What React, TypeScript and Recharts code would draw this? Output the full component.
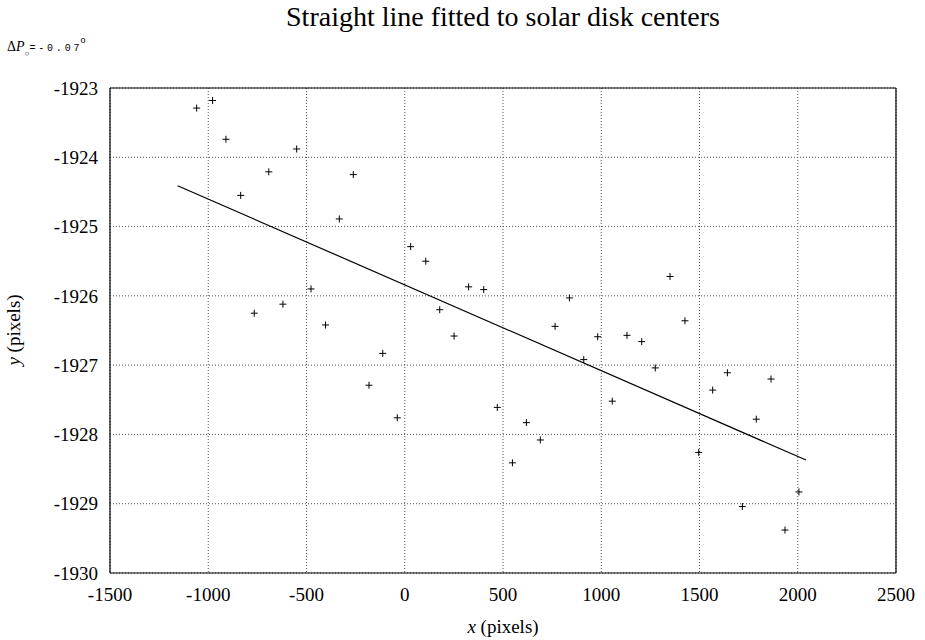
import React from "react";
import {
	ScatterChart,
	Scatter,
	XAxis,
	YAxis,
	CartesianGrid,
} from "recharts";

// measured disk centres, x and y in pixels
const centerX = [
	-1059, -978, -910, -835, -766, -692, -620, -550, -477, -403, -333, -262,
	-182, -112, -38, 30, 107, 178, 251, 325, 402, 471, 548, 619, 690, 765, 838,
	911, 982, 1056, 1131, 1206, 1275, 1350, 1426, 1496, 1567, 1642, 1718, 1789,
	1864, 1935, 2006,
];
const centerY = [
	-1923.29, -1923.18, -1923.74, -1924.55, -1926.25, -1924.21, -1926.12,
	-1923.88, -1925.9, -1926.42, -1924.89, -1924.25, -1927.29, -1926.83,
	-1927.76, -1925.29, -1925.5, -1926.2, -1926.58, -1925.87, -1925.91,
	-1927.61, -1928.41, -1927.83, -1928.08, -1926.44, -1926.03, -1926.92,
	-1926.59, -1927.52, -1926.57, -1926.66, -1927.04, -1925.72, -1926.36,
	-1928.26, -1927.36, -1927.11, -1929.04, -1927.78, -1927.2, -1929.38,
	-1928.83,
];

// end points of the fitted straight line
const fitX = [-1156, 2042];
const fitY = [-1924.41, -1928.37];

const xTicks = [-1500, -1000, -500, 0, 500, 1000, 1500, 2000, 2500];
const yTicks = [-1930, -1929, -1928, -1927, -1926, -1925, -1924, -1923];
const xMinor = Array.from({ length: 41 }, (_, i) => -1500 + i * 100);
const yMinor = Array.from({ length: 36 }, (_, i) => +(-1930 + i * 0.2).toFixed(1));

const points = centerX.map((x, i) => ({ x, y: centerY[i] }));
const fitLine = fitX.map((x, i) => ({ x, y: fitY[i] }));

const serif = "'Liberation Serif', 'Times New Roman', serif";
const mono = "'Liberation Mono', 'DejaVu Sans Mono', monospace";

const Plus = (props: any) => {
	const { cx, cy } = props;
	if (cx == null || cy == null) return <g />;
	return (
		<g stroke="#000" strokeWidth={1}>
			<line x1={cx - 3.5} x2={cx + 3.5} y1={cy} y2={cy} />
			<line x1={cx} x2={cx} y1={cy - 3.5} y2={cy + 3.5} />
		</g>
	);
};

const NoDot = () => <g />;

const tickFont = { fontFamily: serif, fontSize: 19, fill: "#000" };
const frame = { stroke: "#000", strokeWidth: 1.2 };
const tl = { stroke: "#000" };
const thin = 0.01; // mirrored tick-only axes, practically no size

export default function App() {
	return (
		<div style={{ position: "absolute", left: 0, top: 0, width: 925, height: 640, background: "#fff" }}>
			<ScatterChart
				width={925}
				height={640}
				margin={{ top: 88, right: 29, bottom: 37, left: 50 }}
			>
				<CartesianGrid
					xAxisId="main"
					yAxisId="main"
					stroke="#555"
					strokeDasharray="1 2"
				/>
				{/* inward tick marks on all four sides */}
				<XAxis xAxisId="bmin" type="number" domain={[-1500, 2500]} ticks={xMinor} interval={0} height={thin} mirror tick={false} tickSize={4} axisLine={false} tickLine={tl} allowDataOverflow />
				<XAxis xAxisId="bmaj" type="number" domain={[-1500, 2500]} ticks={xTicks} interval={0} height={thin} mirror tick={false} tickSize={8} axisLine={false} tickLine={tl} allowDataOverflow />
				<XAxis
					xAxisId="main"
					type="number"
					dataKey="x"
					domain={[-1500, 2500]}
					ticks={xTicks}
					interval={0}
					height={30}
					tickSize={6}
					tickMargin={9}
					tickLine={false}
					axisLine={frame}
					tick={tickFont}
					allowDataOverflow
				/>
				<XAxis xAxisId="tmin" orientation="top" type="number" domain={[-1500, 2500]} ticks={xMinor} interval={0} height={thin} mirror tick={false} tickSize={4} axisLine={frame} tickLine={tl} allowDataOverflow />
				<XAxis xAxisId="tmaj" orientation="top" type="number" domain={[-1500, 2500]} ticks={xTicks} interval={0} height={thin} mirror tick={false} tickSize={8} axisLine={false} tickLine={tl} allowDataOverflow />

				<YAxis yAxisId="lmin" type="number" domain={[-1930, -1923]} ticks={yMinor} interval={0} width={thin} mirror tick={false} tickSize={4} axisLine={false} tickLine={tl} allowDataOverflow />
				<YAxis yAxisId="lmaj" type="number" domain={[-1930, -1923]} ticks={yTicks} interval={0} width={thin} mirror tick={false} tickSize={8} axisLine={false} tickLine={tl} allowDataOverflow />
				<YAxis
					yAxisId="main"
					type="number"
					dataKey="y"
					domain={[-1930, -1923]}
					ticks={yTicks}
					interval={0}
					width={60}
					tickSize={6}
					tickMargin={6}
					tickLine={false}
					axisLine={frame}
					tick={tickFont}
					allowDataOverflow
				/>
				<YAxis yAxisId="rmin" orientation="right" type="number" domain={[-1930, -1923]} ticks={yMinor} interval={0} width={thin} mirror tick={false} tickSize={4} axisLine={frame} tickLine={tl} allowDataOverflow />
				<YAxis yAxisId="rmaj" orientation="right" type="number" domain={[-1930, -1923]} ticks={yTicks} interval={0} width={thin} mirror tick={false} tickSize={8} axisLine={false} tickLine={tl} allowDataOverflow />

				<Scatter
					xAxisId="main"
					yAxisId="main"
					data={fitLine}
					line={{ stroke: "#000", strokeWidth: 1.2 }}
					shape={NoDot}
					isAnimationActive={false}
				/>
				<Scatter
					xAxisId="main"
					yAxisId="main"
					data={points}
					shape={Plus}
					isAnimationActive={false}
				/>
			</ScatterChart>
			<svg
				width={925}
				height={640}
				style={{ position: "absolute", left: 0, top: 0, pointerEvents: "none" }}
			>
				<text x={503} y={26} textAnchor="middle" fontFamily={serif} fontSize={28} fill="#000">
					Straight line fitted to solar disk centers
				</text>
				<text x={7} y={51} fontFamily={serif} fontSize={14} fill="#000">
					<tspan>Δ</tspan>
					<tspan fontStyle="italic">P</tspan>
					<tspan fontSize={8} dy={5}>○</tspan>
					<tspan fontFamily={mono} fontSize={10} letterSpacing={2.8} dy={-5}>=-0.0</tspan>
					<tspan fontFamily={mono} fontSize={10}>7</tspan>
					<tspan fontSize={10} dx={1} dy={-8}>o</tspan>
				</text>
				<text x={503} y={633} textAnchor="middle" fontFamily={serif} fontSize={19} fill="#000">
					<tspan fontStyle="italic">x</tspan> (pixels)
				</text>
				<text
					x={0}
					y={0}
					transform="translate(20 330) rotate(-90)"
					textAnchor="middle"
					fontFamily={serif}
					fontSize={19}
					fill="#000"
				>
					<tspan fontStyle="italic">y</tspan> (pixels)
				</text>
			</svg>
		</div>
	);
}
